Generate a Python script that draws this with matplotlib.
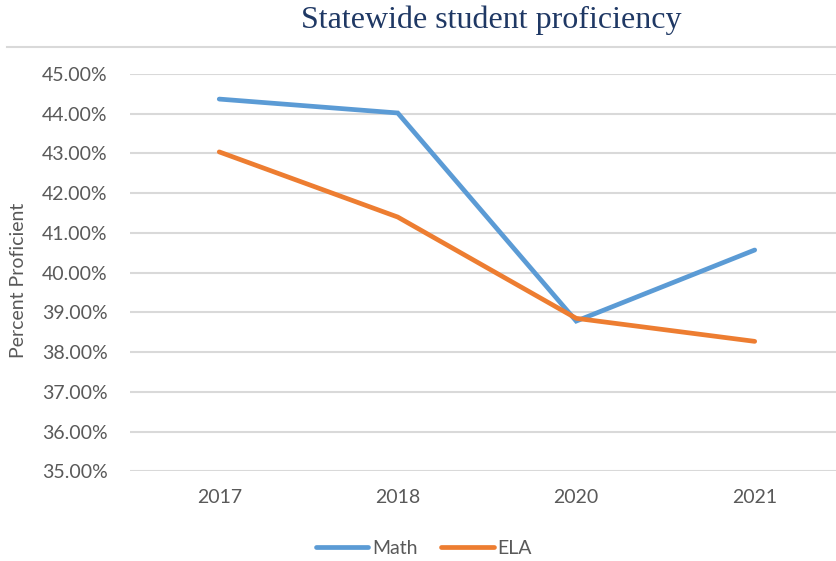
import matplotlib.pyplot as plt
from matplotlib.lines import Line2D
from matplotlib.ticker import FuncFormatter

years = ["2017", "2018", "2020", "2021"]
math_pct = [44.37, 44.02, 38.78, 40.57]
ela_pct = [43.04, 41.40, 38.85, 38.27]
y_ticks = [35, 36, 37, 38, 39, 40, 41, 42, 43, 44, 45]


def main():
    plt.rcParams['font.family'] = ['Lato', 'DejaVu Sans']
    grey = '#595959'

    fig = plt.figure(figsize=(8.36, 5.61), dpi=100)
    # the chart is cut off on the right, so the axes run past the figure edge
    ax = fig.add_axes([0.1555, 0.160, 0.854, 0.708])

    x = list(range(len(years)))
    ax.plot(x, math_pct, color='#5B9BD5', lw=3.4, solid_capstyle='round',
            solid_joinstyle='miter', label='Math', clip_on=False, zorder=3)
    ax.plot(x, ela_pct, color='#ED7D31', lw=3.4, solid_capstyle='round',
            solid_joinstyle='miter', label='ELA', clip_on=False, zorder=3)

    ax.set_xlim(-0.5, 3.5)
    ax.set_ylim(35, 45)
    ax.set_xticks(x)
    ax.set_xticklabels(years)
    ax.set_yticks(y_ticks)
    ax.yaxis.set_major_formatter(FuncFormatter(lambda v, p: f"{v:.2f}%"))

    ax.grid(axis='y', color='#D9D9D9', lw=1.5)
    ax.set_axisbelow(True)
    for s in ax.spines.values():
        s.set_visible(False)
    ax.tick_params(length=0, colors=grey, labelsize=14)
    ax.tick_params(axis='x', pad=13)
    ax.tick_params(axis='y', pad=16)

    fig.text(0.022, 0.5, "Percent Proficient", rotation=90, ha='center', va='center',
             color=grey, fontsize=14)

    fig.text(0.588, 0.964, "Statewide student proficiency", ha='center', va='center',
             family='Liberation Serif', fontsize=23, color='#1F3864')

    # thin border line under the title
    fig.add_artist(Line2D([0.008, 1.0], [0.916, 0.916], color='#D9D9D9', lw=1.5))

    handles, labels = ax.get_legend_handles_labels()
    leg = fig.legend(handles, labels, loc='center', bbox_to_anchor=(0.507, 0.023),
                     ncol=2, frameon=False, fontsize=14, handlelength=2.7,
                     columnspacing=1.2, handletextpad=0.2)
    for t in leg.get_texts():
        t.set_color(grey)

    fig.savefig("out.png", dpi=100)


if __name__ == "__main__":
    main()
